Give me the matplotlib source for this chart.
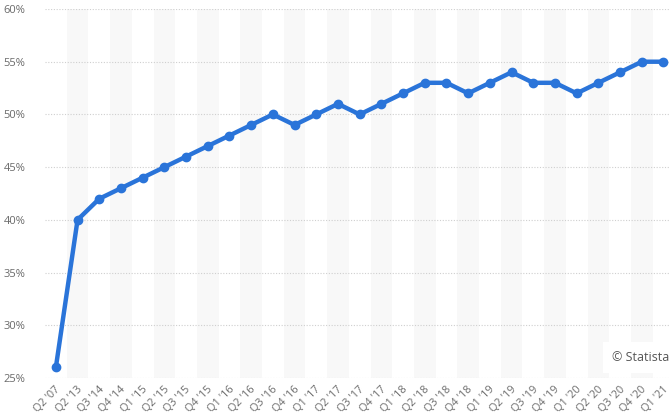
import matplotlib
matplotlib.use('Agg')
from matplotlib import pyplot as plt
from matplotlib.ticker import FuncFormatter
from matplotlib.transforms import ScaledTranslation

quarters = ["Q2 '07", "Q2 '13", "Q3 '14", "Q4 '14", "Q1 '15", "Q2 '15", "Q3 '15", "Q4 '15",
            "Q1 '16", "Q2 '16", "Q3 '16", "Q4 '16", "Q1 '17", "Q2 '17", "Q3 '17", "Q4 '17",
            "Q1 '18", "Q2 '18", "Q3 '18", "Q4 '18", "Q1 '19", "Q2 '19", "Q3 '19", "Q4 '19",
            "Q1 '20", "Q2 '20", "Q3 '20", "Q4 '20", "Q1 '21"]
share = [26, 40, 42, 43, 44, 45, 46, 47,
         48, 49, 50, 49, 50, 51, 50, 51,
         52, 53, 53, 52, 53, 54, 53, 53,
         52, 53, 54, 55, 55]

plt.rcParams['font.family'] = ['Open Sans', 'DejaVu Sans']

fig = plt.figure(figsize=(6.7, 4.2), dpi=100)
ax = fig.add_axes([45 / 670, 1 - 378 / 420, 1 - 45 / 670, 369 / 420])

x = list(range(len(quarters)))

# alternating column shading
for i in x:
    if i % 2 == 1:
        ax.axvspan(i - 0.5, i + 0.5, color='#f8f8f8', zorder=0, lw=0)

ax.plot(x, share, color='#2a74d9', lw=3.2, marker='o', ms=6, zorder=3,
        solid_joinstyle='round', solid_capstyle='round', clip_on=False)

ax.set_xlim(-0.5, 28.3)
ax.set_ylim(25, 60)
ax.set_yticks(range(25, 61, 5))
ax.yaxis.set_major_formatter(FuncFormatter(lambda v, p: '%d%%' % v))
ax.grid(axis='y', color='#cfcfcf', ls=(0, (1, 1.5)), lw=0.8, zorder=1)
ax.set_axisbelow(True)

ax.set_xticks(x)
ax.set_xticklabels(quarters, rotation=45, ha='right', va='center', rotation_mode='anchor')
ax.tick_params(axis='x', length=0, pad=7, labelsize=7.8, labelcolor='#6a6a6a')
ax.tick_params(axis='y', length=0, pad=14, labelsize=8, labelcolor='#6a6a6a')
shift = ScaledTranslation(3 / 100, 0, fig.dpi_scale_trans)
for lab in ax.get_xticklabels():
    lab.set_transform(lab.get_transform() + shift)

for s in ax.spines.values():
    s.set_visible(False)

ax.text(0.998, 0.055, '\u00a9 Statista', transform=ax.transAxes, ha='right', va='center',
        fontsize=9, color='#555555', zorder=5,
        bbox=dict(boxstyle='square,pad=0.7', fc='white', ec='none'))

fig.savefig('out.png', dpi=100)
